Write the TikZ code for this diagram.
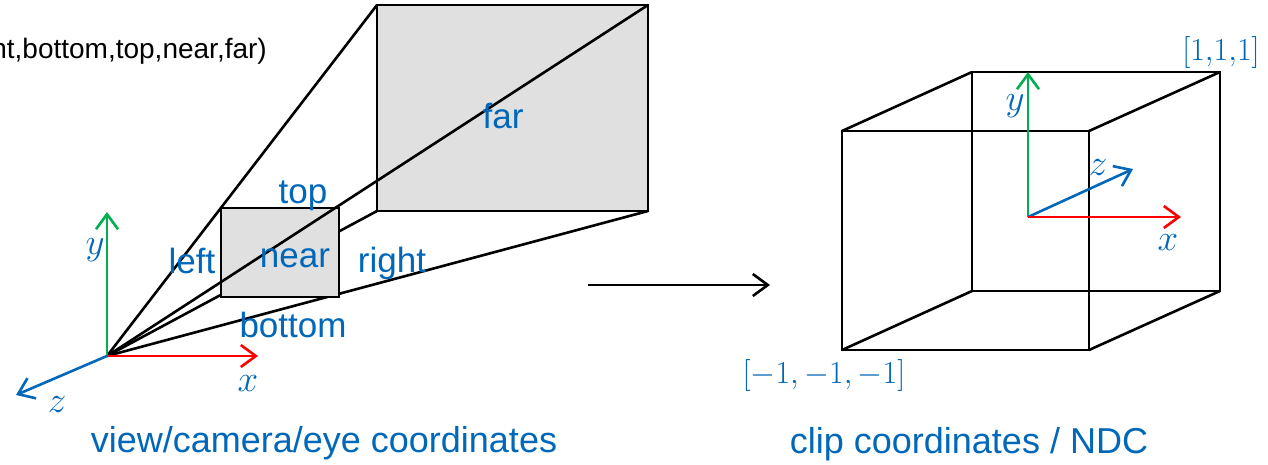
\RequirePackage{fix-cm}
\documentclass[tikz,border=0pt]{standalone}
\usepackage{fontspec}
\setmainfont{Liberation Sans}
\usetikzlibrary{arrows.meta}
\definecolor{lblue}{RGB}{0,103,185}
\definecolor{lgreen}{RGB}{0,176,80}
\definecolor{lred}{RGB}{255,0,0}
\definecolor{lgray}{RGB}{224,224,224}
\begin{document}
\begin{tikzpicture}[x=1pt,y=-1pt,>={Straight Barb[length=15pt,width=22pt]},
  edge/.style={line width=2.6pt},
  axis/.style={line width=2.6pt,->},
  face/.style={edge,fill=lgray},
  word/.style={text=lblue,font=\fontsize{35}{40}\selectfont,anchor=base,inner sep=0pt},
  caption/.style={word,font=\fontsize{36}{40}\selectfont},
  sym/.style={text=lblue,font=\fontsize{37}{40}\selectfont,inner sep=0pt}]
\useasboundingbox (0,0) rectangle (1268,464);
\node[anchor=base east,inner sep=0pt,font=\fontsize{28}{32}\selectfont] (call) at (267,58) {nt,bottom,top,near,far)};
% view frustum
\coordinate (O) at (107,356);
\coordinate (ftl) at (377,5);
\coordinate (ftr) at (648,5);
\coordinate (fbl) at (377,211);
\coordinate (fbr) at (648,211);
\draw[edge](O)--(ftl);
\draw[edge](O)--(fbl);
\draw[edge](O)--(fbr);
\draw[face](ftl) rectangle (fbr);
\draw[face](221,208) rectangle (339,297);
\draw[edge](O)--(ftr);
\node[word] (far) at (503,128) {far};
\node[word] (top) at (303,203) {top};
\node[word] (near) at (295,267) {near};
\node[word] (left) at (192,273) {left};
\node[word] (right) at (392,272) {right};
\node[word] (bottom) at (293,337) {bottom};
% eye axes
\coordinate (ex) at (258,356);
\coordinate (ey) at (107,212);
\coordinate (ez) at (16,395);
\draw[axis,lgreen](O)--(ey);
\draw[axis,lblue](O)--(ez);
\draw[axis,lred](O)--(ex);
\node[sym] (eyl) at (95,250) {$y$};
\node[sym] (exl) at (248,384) {$x$};
\node[sym] (ezl) at (57,405) {$z$};
\node[caption] (view) at (324,452) {view/camera/eye coordinates};
% projection arrow
\coordinate (pa) at (588,285);
\coordinate (pb) at (770,285);
\draw[edge,->](pa)--(pb);
% NDC cube
\coordinate (a) at (842,131);
\coordinate (b) at (1089,131);
\coordinate (c) at (1089,350);
\coordinate (d) at (842,350);
\coordinate (a2) at (972,72);
\coordinate (b2) at (1220,72);
\coordinate (c2) at (1220,291);
\coordinate (d2) at (972,291);
\draw[edge](a2)--(b2)--(c2)--(d2)--cycle;
\draw[edge](a)--(b)--(c)--(d)--cycle;
\draw[edge](a)--(a2) (b)--(b2) (c)--(c2) (d)--(d2);
\coordinate (C) at (1028,217);
\coordinate (cx) at (1181,217);
\coordinate (cy) at (1028,72);
\coordinate (cz) at (1133,169);
\draw[axis,lgreen](C)--(cy);
\draw[axis,lblue](C)--(cz);
\draw[axis,lred](C)--(cx);
\node[sym] (cyl) at (1015,106) {$y$};
\node[sym] (czl) at (1098,168) {$z$};
\node[sym] (cxl) at (1168,243) {$x$};
\node[sym,font=\fontsize{32}{36}\selectfont] (max) at (1221,52) {$[1{,}1{,}1]$};
\node[sym,font=\fontsize{32}{36}\selectfont] (min) at (824,375) {$[-1,-1,-1]$};
\node[caption] (clip) at (969,453) {clip coordinates / NDC};
\end{tikzpicture}
\end{document}
